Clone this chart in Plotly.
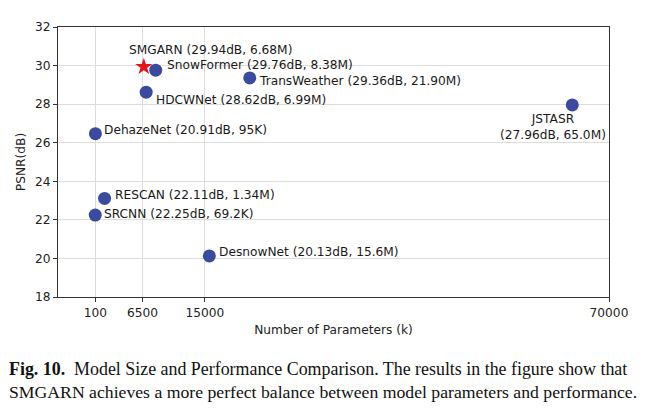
import plotly.graph_objects as go

# Data
models = ["SnowFormer", "HDCWNet", "TransWeather", "JSTASR", "DehazeNet",
          "RESCAN", "SRCNN", "DesnowNet"]
params_k = [8300, 7000, 21100, 65000, 95, 1340, 69.2, 15600]
psnr = [29.76, 28.62, 29.36, 27.96, 26.47, 23.11, 22.25, 20.13]
labels = ["SnowFormer (29.76dB, 8.38M)", "HDCWNet (28.62dB, 6.99M)",
          "TransWeather (29.36dB, 21.90M)", "JSTASR<br>(27.96dB, 65.0M)",
          "DehazeNet (20.91dB, 95K)", "RESCAN (22.11dB, 1.34M)",
          "SRCNN (22.25dB, 69.2K)", "DesnowNet (20.13dB, 15.6M)"]

ours_name = "SMGARN"
ours_params_k = [6680]
ours_psnr = [29.94]
ours_label = "SMGARN (29.94dB, 6.68M)"

x_ticks = [100, 6500, 15000, 70000]
y_ticks = [18, 20, 22, 24, 26, 28, 30, 32]

caption_lines = [
    "<b>Fig. 10.</b>  Model Size and Performance Comparison. The results in the figure show that",
    "SMGARN achieves a more perfect balance between model parameters and performance.",
]

# label offsets in pixels (style only)
offsets = {
    "SnowFormer": (9, -5, "left"),
    "HDCWNet": (8, 8, "left"),
    "TransWeather": (7, 3, "left"),
    "JSTASR": (-19, 22, "center"),
    "DehazeNet": (7, -4, "left"),
    "RESCAN": (8, -3, "left"),
    "SRCNN": (7, -1, "left"),
    "DesnowNet": (8, -4, "left"),
}

FONT = "DejaVu Sans"
FS = 12.2
fig = go.Figure()
fig.add_trace(go.Scatter(
    x=params_k, y=psnr, mode="markers",
    marker=dict(size=13, color="#3a4a9e"), showlegend=False, cliponaxis=False))
fig.add_trace(go.Scatter(
    x=ours_params_k, y=ours_psnr, mode="markers",
    marker=dict(size=13, color="#e8141c", symbol="star"),
    showlegend=False, cliponaxis=False))

for m, xv, yv, lab in zip(models, params_k, psnr, labels):
    dx, dy, al = offsets[m]
    fig.add_annotation(x=xv, y=yv, text=lab, showarrow=False,
                       xanchor=al, yanchor="middle", xshift=dx, yshift=-dy,
                       align="center",
                       font=dict(family=FONT, size=FS, color="#1a1a1a"))

fig.add_annotation(x=ours_params_k[0], y=ours_psnr[0], text=ours_label,
                   showarrow=False, xanchor="left", yanchor="middle",
                   xshift=-17, yshift=17,
                   font=dict(family=FONT, size=FS, color="#1a1a1a"))

# caption
cap_sizes = [17.9, 17.7]
cap_y = [-0.2664, -0.352]
for txt, sz, yy in zip(caption_lines, cap_sizes, cap_y):
    fig.add_annotation(xref="paper", yref="paper", x=-0.093, y=yy, text=txt,
                       showarrow=False, xanchor="left", yanchor="middle",
                       font=dict(family="Liberation Serif", size=sz, color="#111111"))

axis_common = dict(showline=True, linecolor="#333333", linewidth=1.3, mirror=True,
                   ticks="outside", ticklen=4, tickcolor="#333333",
                   gridcolor="#dcdcdc", gridwidth=1.2, zeroline=False,
                   tickfont=dict(family=FONT, size=FS, color="#222222"))

fig.update_xaxes(range=[-5000, 70000], tickvals=x_ticks,
                 ticktext=[str(v) for v in x_ticks],
                 title=dict(text="Number of Parameters (k)", standoff=6,
                            font=dict(family=FONT, size=FS, color="#222222")),
                 **axis_common)
fig.update_yaxes(range=[18, 32], tickvals=y_ticks,
                 title=dict(text="PSNR(dB)", standoff=6,
                            font=dict(family=FONT, size=FS, color="#222222")),
                 **axis_common)

fig.update_layout(width=651, height=412, plot_bgcolor="white", paper_bgcolor="white",
                  margin=dict(l=49.3, r=49.7, t=14.7, b=123.3))
fig.write_html("out.html")
